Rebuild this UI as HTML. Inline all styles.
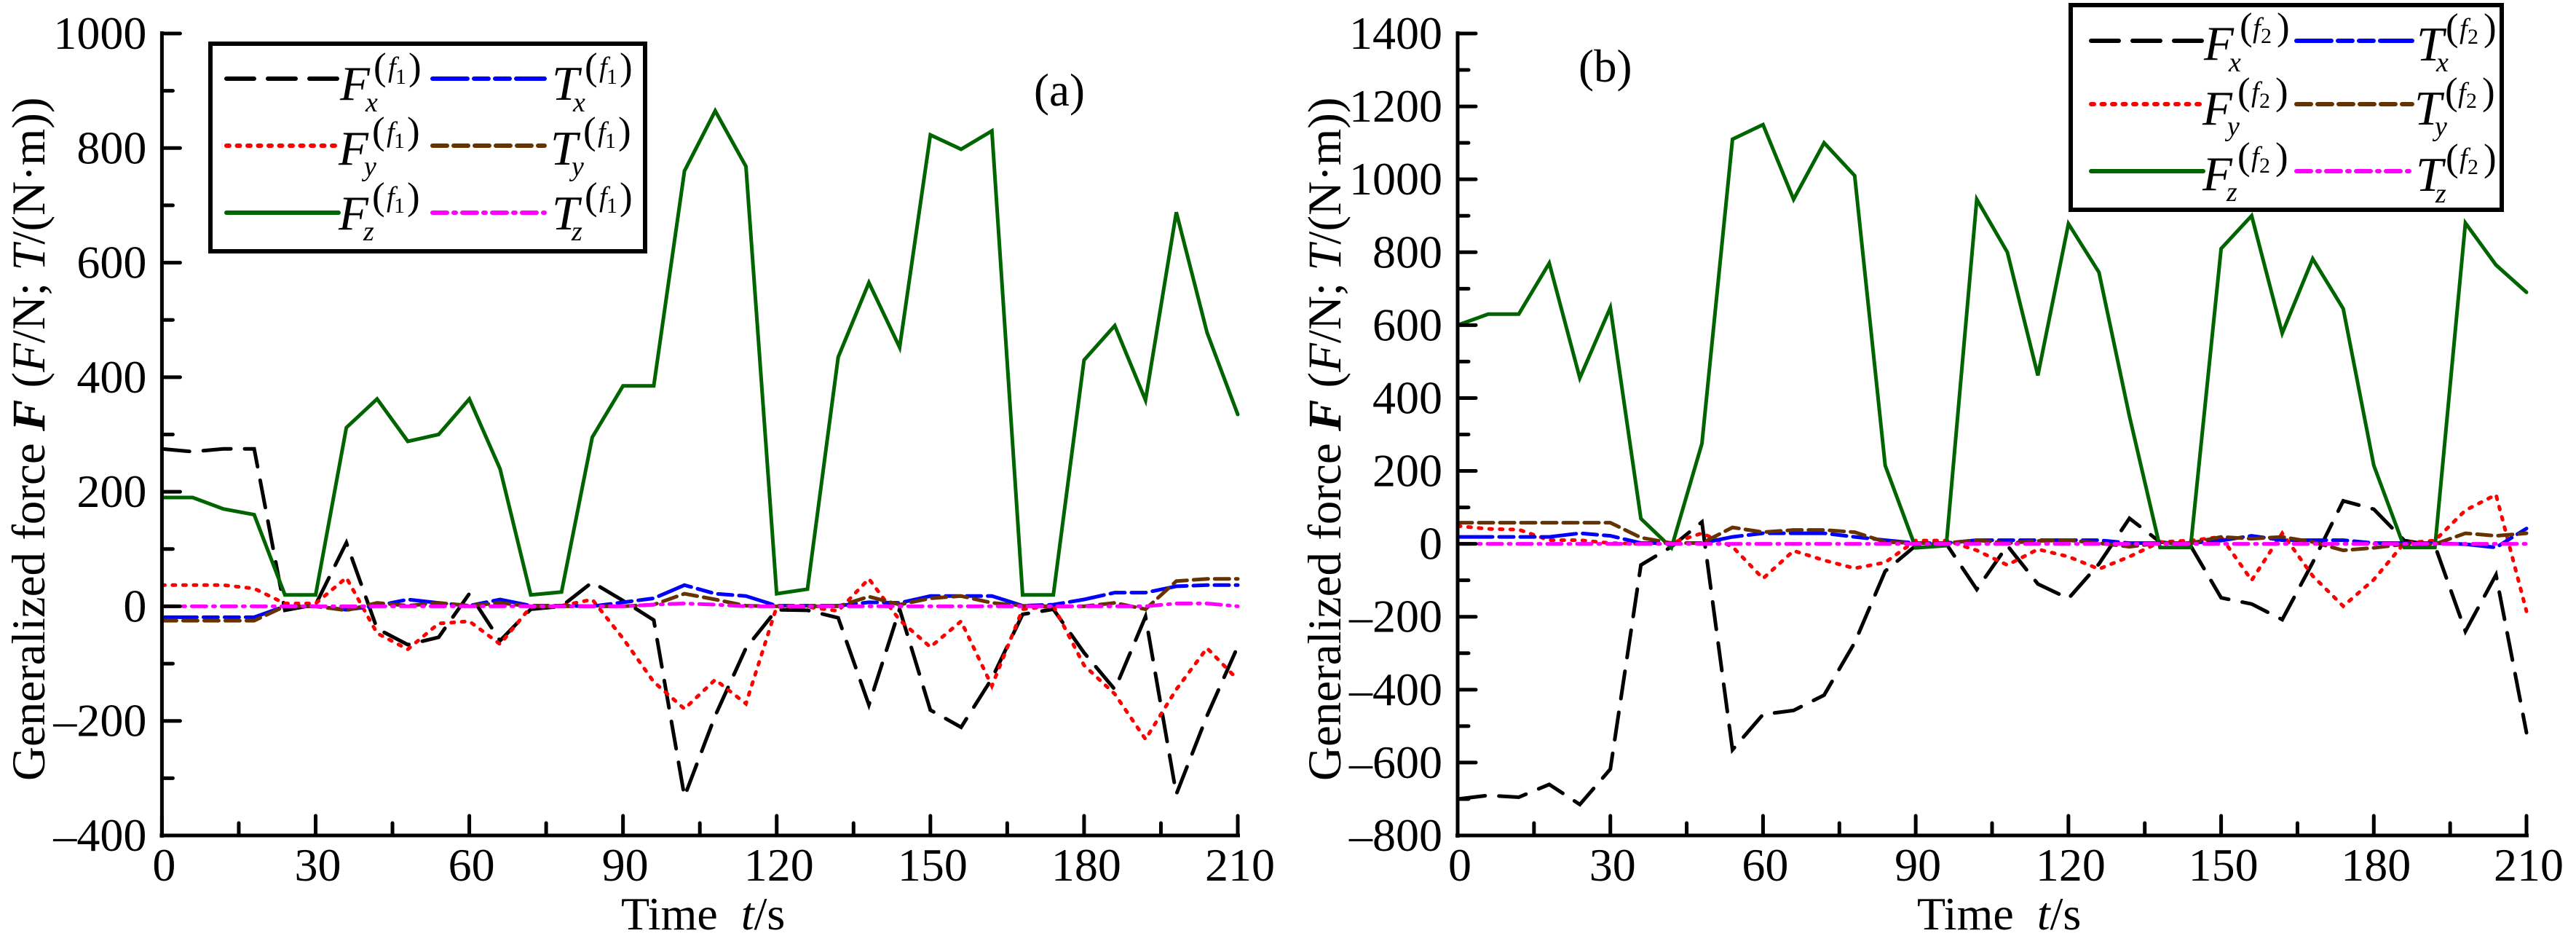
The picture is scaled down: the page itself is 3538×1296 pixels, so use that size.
<!DOCTYPE html>
<html><head><meta charset="utf-8"><title>Generalized force charts</title>
<style>
html,body{margin:0;padding:0;background:#fff}
svg{display:block;font-family:"Liberation Serif",serif;fill:#000}
.m{font-style:italic;font-size:67px}.s{font-style:italic;font-size:38px}.p{font-size:53px}.f{font-style:italic;font-size:39px}.d{font-size:30px}
.lab{font-size:64px}
.ytitle{font-size:65px}
.box{fill:#fff;stroke:#000;stroke-width:6}
.i{font-style:italic}.bi{font-style:italic;font-weight:bold}
</style></head><body>
<svg id="chart" xmlns="http://www.w3.org/2000/svg" width="3538" height="1296" viewBox="0 0 3538 1296">
<g id="plotA"></g>
<g id="plotB"></g>

<text class="ytitle" transform="translate(61,1072) rotate(-90)">Generalized force <tspan class="bi">F</tspan> (<tspan class="i">F</tspan>/N; <tspan class="i">T</tspan>/(N·m))</text>
<text class="ytitle" transform="translate(1841,1072) rotate(-90)">Generalized force <tspan class="bi">F</tspan> (<tspan class="i">F</tspan>/N; <tspan class="i">T</tspan>/(N·m))</text>
<text class="lab" x="853" y="1276">Time&#160;&#160;<tspan class="i">t</tspan>/s</text>
<text class="lab" x="2633" y="1276">Time&#160;&#160;<tspan class="i">t</tspan>/s</text>
<text x="1420" y="145" font-size="63">(a)</text>
<text x="2168" y="112" font-size="63">(b)</text>

<g>
<rect class="box" x="289" y="60" width="597" height="285"/>
<g id="legendLinesA"></g>
<text><tspan class="m" x="467" y="137">F</tspan><tspan class="s" x="502" y="153">x</tspan><tspan class="p" x="513" y="109">(</tspan><tspan class="f" x="533" y="105">f</tspan><tspan class="d" x="543" y="115">1</tspan><tspan class="p" x="561" y="109">)</tspan></text>
<text><tspan class="m" x="465" y="226">F</tspan><tspan class="s" x="500" y="241">y</tspan><tspan class="p" x="511" y="197">(</tspan><tspan class="f" x="531" y="194">f</tspan><tspan class="d" x="541" y="203">1</tspan><tspan class="p" x="559" y="197">)</tspan></text>
<text><tspan class="m" x="465" y="315">F</tspan><tspan class="s" x="499" y="330">z</tspan><tspan class="p" x="511" y="287">(</tspan><tspan class="f" x="531" y="283">f</tspan><tspan class="d" x="541" y="292">1</tspan><tspan class="p" x="559" y="287">)</tspan></text>
<text><tspan class="m" x="758" y="137">T</tspan><tspan class="s" x="787" y="153">x</tspan><tspan class="p" x="803" y="109">(</tspan><tspan class="f" x="823" y="105">f</tspan><tspan class="d" x="833" y="115">1</tspan><tspan class="p" x="851" y="109">)</tspan></text>
<text><tspan class="m" x="756" y="226">T</tspan><tspan class="s" x="785" y="241">y</tspan><tspan class="p" x="801" y="197">(</tspan><tspan class="f" x="821" y="194">f</tspan><tspan class="d" x="831" y="203">1</tspan><tspan class="p" x="849" y="197">)</tspan></text>
<text><tspan class="m" x="758" y="315">T</tspan><tspan class="s" x="785" y="330">z</tspan><tspan class="p" x="803" y="287">(</tspan><tspan class="f" x="823" y="283">f</tspan><tspan class="d" x="833" y="292">1</tspan><tspan class="p" x="851" y="287">)</tspan></text>
</g>

<g>
<rect class="box" x="2844" y="7" width="592" height="281"/>
<g id="legendLinesB"></g>
<text><tspan class="m" x="3027" y="82">F</tspan><tspan class="s" x="3061" y="98">x</tspan><tspan class="p" x="3076" y="54">(</tspan><tspan class="f" x="3094" y="51">f</tspan><tspan class="d" x="3105" y="59">2</tspan><tspan class="p" x="3127" y="54">)</tspan></text>
<text><tspan class="m" x="3025" y="171">F</tspan><tspan class="s" x="3059" y="186">y</tspan><tspan class="p" x="3073" y="143">(</tspan><tspan class="f" x="3092" y="139">f</tspan><tspan class="d" x="3103" y="148">2</tspan><tspan class="p" x="3125" y="143">)</tspan></text>
<text><tspan class="m" x="3025" y="261">F</tspan><tspan class="s" x="3058" y="276">z</tspan><tspan class="p" x="3073" y="232">(</tspan><tspan class="f" x="3092" y="228">f</tspan><tspan class="d" x="3103" y="237">2</tspan><tspan class="p" x="3125" y="232">)</tspan></text>
<text><tspan class="m" x="3319" y="83">T</tspan><tspan class="s" x="3346" y="98">x</tspan><tspan class="p" x="3359" y="55">(</tspan><tspan class="f" x="3378" y="52">f</tspan><tspan class="d" x="3389" y="60">2</tspan><tspan class="p" x="3411" y="55">)</tspan></text>
<text><tspan class="m" x="3316" y="171">T</tspan><tspan class="s" x="3344" y="186">y</tspan><tspan class="p" x="3358" y="143">(</tspan><tspan class="f" x="3376" y="140">f</tspan><tspan class="d" x="3387" y="148">2</tspan><tspan class="p" x="3409" y="143">)</tspan></text>
<text><tspan class="m" x="3318" y="262">T</tspan><tspan class="s" x="3345" y="278">z</tspan><tspan class="p" x="3359" y="234">(</tspan><tspan class="f" x="3378" y="230">f</tspan><tspan class="d" x="3389" y="239">2</tspan><tspan class="p" x="3411" y="234">)</tspan></text>
</g>
</svg>
<script>
const times = [0,6,12,18,24,30,36,42,48,54,60,66,72,78,84,90,96,102,108,114,120,126,132,138,144,150,156,162,168,174,180,186,192,198,204,210];
const xTickLabels = [0,30,60,90,120,150,180,210];
const yTickLabelsA = [1000,800,600,400,200,0,-200,-400];
const yTickLabelsB = [1400,1200,1000,800,600,400,200,0,-200,-400,-600,-800];

const fxA = [275,270,275,275,-7,3,111,-39,-67,-54,22,-60,-5,0,42,10,-24,-332,-191,-73,-6,-7,-20,-172,-5,-181,-211,-126,-14,-5,-81,-145,-18,-328,-191,-70];
const fyA = [37,37,37,31,5,5,50,-47,-75,-30,-26,-66,-1,1,12,-56,-132,-179,-128,-170,-1,-1,-8,48,-24,-71,-26,-139,-5,1,-103,-153,-232,-145,-73,-128];
const fzA = [190,190,170,160,20,20,312,362,288,300,362,240,20,25,295,385,385,760,865,768,22,30,435,565,452,823,798,830,20,20,430,490,360,688,478,335];
const txA = [-19,-19,-19,-19,0,0,-6,1,12,6,1,12,1,1,0,7,14,37,22,18,1,1,1,7,6,18,18,18,1,3,12,24,24,35,37,37];
const tyA = [-25,-25,-25,-25,0,0,-7,6,1,6,1,6,0,0,0,0,3,22,12,1,0,0,0,17,3,14,18,6,1,0,0,6,-5,44,48,48];
const tzA = [0,0,0,0,0,0,0,0,0,0,0,0,0,0,0,0,3,5,3,0,0,0,0,0,0,0,0,0,0,0,0,0,0,5,5,0];

const fxB = [-700,-690,-695,-660,-715,-618,-58,-8,60,-565,-468,-457,-415,-271,-75,-5,0,-125,-5,-110,-150,-55,70,5,-5,-148,-165,-208,-51,118,95,9,-5,-240,-85,-518];
const fyB = [49,41,39,10,10,2,0,2,29,-8,-95,-19,-45,-67,-51,9,9,-18,-58,-15,-35,-69,-35,5,9,19,-100,29,-88,-171,-98,2,9,92,135,-185];
const fzB = [600,630,630,770,455,648,69,-11,275,1110,1150,945,1100,1010,215,-11,-5,945,800,462,878,745,350,-10,-10,810,900,578,782,645,215,-10,-10,880,765,690];
const txB = [19,19,19,19,29,22,2,2,2,19,29,29,29,19,10,2,2,10,10,10,10,10,2,2,2,9,22,10,10,10,2,2,2,-1,-10,42];
const tyB = [58,58,58,58,58,58,17,2,2,45,32,38,38,32,5,2,2,10,2,8,10,2,-8,2,2,19,14,19,5,-18,-11,-1,-1,29,22,29];
const tzB = [0,0,0,0,0,0,0,0,0,0,0,0,0,0,0,0,0,0,0,0,0,0,0,0,0,0,0,0,0,0,0,0,0,0,0,0];

const NS = 'http://www.w3.org/2000/svg';
const STYLES = {
  fx:{color:'#000000',dash:'38 19'},
  fy:{color:'#ff0000',dash:'4 10.5'},
  fz:{color:'#006400',dash:''},
  tx:{color:'#0000ff',dash:'48 9 20 9 20 9'},
  ty:{color:'#663300',dash:'20 9'},
  tz:{color:'#ff00ff',dash:'20 9 3 9'}
};
function make(tag, parent, attrs){
  const el = document.createElementNS(NS, tag);
  for (const k in attrs) el.setAttribute(k, attrs[k]);
  parent.appendChild(el);
  return el;
}
function drawPanel(cfg){
  const g = cfg.group;
  const sx = t => cfg.x0 + (t - 0) / 210 * (cfg.x1 - cfg.x0);
  const sy = v => cfg.yTop + (cfg.vMax - v) / (cfg.vMax - cfg.vMin) * (cfg.yBot - cfg.yTop);
  cfg.series.forEach(s => {
    const st = STYLES[s.key];
    const line = make('polyline', g, {
      points: times.map((t,i) => sx(t).toFixed(1) + ',' + sy(s.values[i]).toFixed(1)).join(' '),
      fill:'none', stroke:st.color, 'stroke-width':5,
      'stroke-linecap':'round', 'stroke-linejoin':'miter', 'stroke-dasharray':st.dash
    });
    
    
  });
  const yAxis = make('line', g, {x1:cfg.x0,y1:cfg.yTop-3,x2:cfg.x0,y2:cfg.yBot+3,stroke:'#000','stroke-width':5});
  
  
  const xAxis = make('line', g, {x1:cfg.x0-3,y1:cfg.yBot,x2:cfg.x1+3,y2:cfg.yBot,stroke:'#000','stroke-width':5});
  
  
  xTickLabels.forEach((t,i) => {
    const tk = make('line', g, {x1:sx(t),y1:cfg.yBot,x2:sx(t),y2:cfg.yBot-27,stroke:'#000','stroke-width':5,'stroke-linecap':'round'});
    
    
    if (i < xTickLabels.length - 1) {
      const mn = make('line', g, {x1:sx(t+15),y1:cfg.yBot,x2:sx(t+15),y2:cfg.yBot-17,stroke:'#000','stroke-width':5,'stroke-linecap':'round'});
      
      
    }
    const lb = make('text', g, {x:sx(t)+3,y:1209,'text-anchor':'middle','font-size':64});
    
    
    lb.textContent = String(t);
  });
  cfg.yLabels.forEach((v,i) => {
    const tk = make('line', g, {x1:cfg.x0,y1:sy(v),x2:cfg.x0+25,y2:sy(v),stroke:'#000','stroke-width':5,'stroke-linecap':'round'});
    
    
    if (i < cfg.yLabels.length - 1) {
      const mn = make('line', g, {x1:cfg.x0,y1:sy(v-100),x2:cfg.x0+15,y2:sy(v-100),stroke:'#000','stroke-width':5,'stroke-linecap':'round'});
      
      
    }
    const lb = make('text', g, {x:cfg.x0-21,y:sy(v)+21,'text-anchor':'end','font-size':64});
    
    
    lb.textContent = String(v).replace('-', '\u2013');
  });
}
function drawLegendLines(group, rows, cols, id){
  [['fx','tx'],['fy','ty'],['fz','tz']].forEach((pair,r) => {
    pair.forEach((key,c) => {
      const st = STYLES[key];
      const ln = make('line', group, {x1:cols[c][0],y1:rows[r],x2:cols[c][1],y2:rows[r],stroke:st.color,'stroke-width':6,'stroke-linecap':'round','stroke-dasharray':st.dash});
      
      
    });
  });
}
drawPanel({id:'a',group:document.getElementById('plotA'),x0:222.4,x1:1700,yTop:46,yBot:1147,vMax:1000,vMin:-400,yLabels:yTickLabelsA,
  series:[{key:'fx',values:fxA},{key:'fy',values:fyA},{key:'fz',values:fzA},{key:'tx',values:txA},{key:'ty',values:tyA},{key:'tz',values:tzA}]});
drawPanel({id:'b',group:document.getElementById('plotB'),x0:2002,x1:3470,yTop:46,yBot:1147,vMax:1400,vMin:-800,yLabels:yTickLabelsB,
  series:[{key:'fx',values:fxB},{key:'fy',values:fyB},{key:'fz',values:fzB},{key:'tx',values:txB},{key:'ty',values:tyB},{key:'tz',values:tzB}]});
drawLegendLines(document.getElementById('legendLinesA'),[108,200,292],[[311,465],[594,748]],'a');
drawLegendLines(document.getElementById('legendLinesB'),[56,143,235],[[2872,3026],[3154,3313]],'b');
</script>
</body></html>
